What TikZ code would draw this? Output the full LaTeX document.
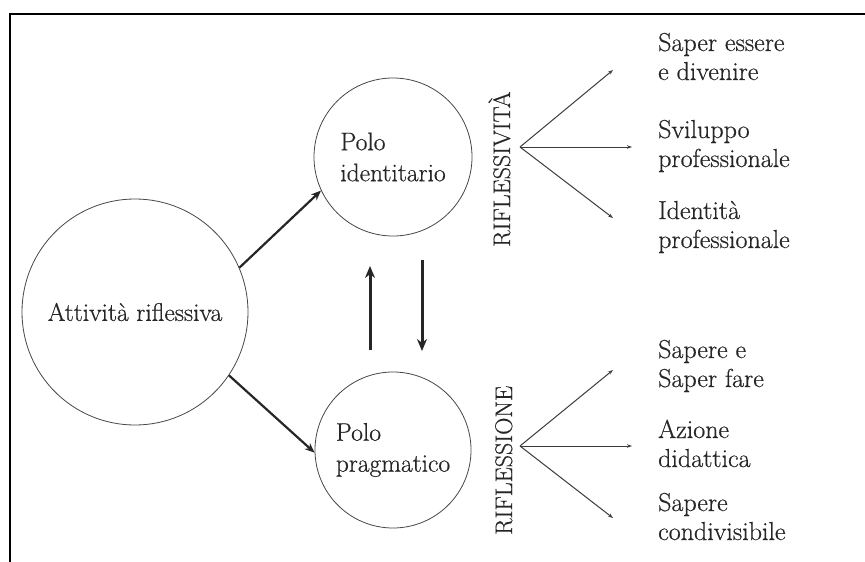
\documentclass[tikz,border=0pt]{standalone}
\usepackage{fontspec}
\setmainfont{Latin Modern Roman}[FakeBold=0.5]
\usetikzlibrary{arrows.meta}
\definecolor{ink}{HTML}{262626}
\newcommand{\twolines}[2]{\begin{tabular}[b]{@{}l@{}}#1\\#2\end{tabular}}
\tikzset{
  txt/.style={font=\fontsize{26}{29}\selectfont, text=ink},
  pole/.style={circle, draw=ink!85, line width=0.8pt, inner sep=0pt, align=left, txt, font=\fontsize{25.5}{31}\selectfont},
  bigarrow/.style={draw=ink, line width=3pt, -{Stealth[length=12pt,width=10pt]}},
  diagarrow/.style={draw=ink, line width=2.2pt, -{Stealth[length=10pt,width=8pt]}},
  fan/.style={draw=ink!90, line width=1pt, -{Stealth[length=5pt,width=3.5pt]}},
  outcome/.style={txt, anchor=base west, inner sep=0pt},
  vlabel/.style={font=\fontsize{24}{24}\selectfont, text=ink, rotate=90, anchor=base west, inner sep=0pt},
}
\begin{document}
\begin{tikzpicture}[x=1pt,y=-1pt]
\useasboundingbox (0,0) rectangle (865,562);
\fill[white] (0,0) rectangle (865,562);
% frame
\draw[line width=2.2pt, black] (10,562) -- (10,14) -- (865,14);

% circles
\node[pole, minimum size=226pt] (att) at (135,312) {Attività riflessiva};
\node[pole, minimum size=158pt] (pid) at (393,157) {Polo\\identitario};
\node[pole, minimum size=156pt] (ppr) at (393,450) {Polo\\pragmatico};

% arrows from central circle
\draw[diagarrow] (att.23) -- (pid.205);
\draw[diagarrow] (att.-34) -- (ppr.182);

% vertical arrows
\coordinate (upS) at (370,350);
\coordinate (upE) at (370,266);
\coordinate (dnS) at (422,260);
\coordinate (dnE) at (422,351);
\draw[bigarrow] (upS) -- (upE);
\draw[bigarrow] (dnS) -- (dnE);

% vertical labels
\node[vlabel] (rv) at (510,247) {RIFLESSIVITÀ};
\node[vlabel] (rs) at (512,535) {RIFLESSIONE};

% top fan
\coordinate (fA) at (520,147);
\coordinate (fA1) at (613,70);
\coordinate (fA2) at (632,147);
\coordinate (fA3) at (613,218);
\draw[fan] (fA) -- (fA1);
\draw[fan] (fA) -- (fA2);
\draw[fan] (fA) -- (fA3);

% bottom fan
\coordinate (fB) at (520,446);
\coordinate (fB1) at (613,370);
\coordinate (fB2) at (632,446);
\coordinate (fB3) at (613,518);
\draw[fan] (fB) -- (fB1);
\draw[fan] (fB) -- (fB2);
\draw[fan] (fB) -- (fB3);

% outcome labels
\node[outcome] (o1) at (658,80) {\twolines{Saper essere}{e divenire}};
\node[outcome] (o2) at (658,167) {\twolines{Sviluppo}{professionale}};
\node[outcome] (o3) at (658,248) {\twolines{Identità}{professionale}};
\node[outcome] (o4) at (658,387) {\twolines{Sapere e}{Saper fare}};
\node[outcome] (o5) at (658,467) {\twolines{Azione}{didattica}};
\node[outcome] (o6) at (658,540) {\twolines{Sapere}{condivisibile}};
\end{tikzpicture}
\end{document}
